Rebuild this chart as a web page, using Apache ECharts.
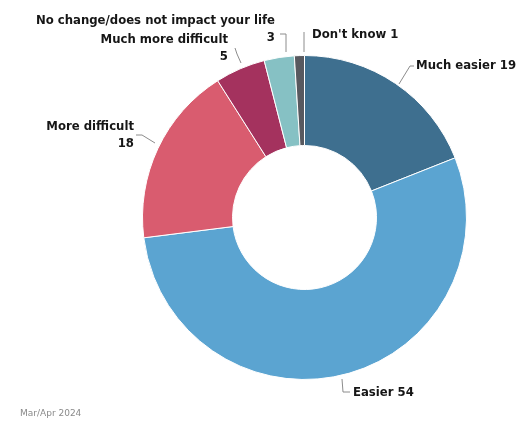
<!DOCTYPE html>
<html>
<head>
<meta charset="utf-8">
<script src="https://cdn.jsdelivr.net/npm/echarts@6/dist/echarts.min.js"></script>
<style>
	html, body { margin: 0; padding: 0; background: #ffffff; }
	#chart { width: 518px; height: 421px; }
</style>
</head>
<body>
<div id="chart"></div>
<script>
var categories = [
	"Much easier",
	"Easier",
	"More difficult",
	"Much more difficult",
	"No change/does not impact your life",
	"Don't know",
];
var values = [19, 54, 18, 5, 3, 1];
var colors = ["#3e6f8f", "#5ba4d1", "#d95c6f", "#a4325e", "#86c1c4", "#58595f"];

// label placement: anchor, alignment and leader line for each slice
var labelPlaces = [
	{ x: 416, y: 66, align: 'left', line: [[399, 84], [410, 66], [414, 66]] },
	{ x: 353, y: 393, align: 'left', line: [[342, 379], [343, 392], [350, 392]] },
	{ x: 134, y: 135, align: 'right', line: [[155, 143], [142, 135], [136, 135]] },
	{ x: 228, y: 48, align: 'right', line: [[241, 63], [237, 54], [235, 48]] },
	{ x: 275, y: 29, align: 'right', line: [[286, 52], [286, 34], [280, 34]] },
	{ x: 312, y: 35, align: 'left', line: [[304, 52], [304, 42], [304, 32]] },
];
var twoLines = [false, false, true, true, true, false];

var chartDom = document.getElementById("chart");
var myChart = echarts.init(chartDom, null, { renderer: 'canvas' });

var pieData = [];
for (var i = 0; i < categories.length; i++) {
	pieData.push({
		name: categories[i],
		value: values[i],
		itemStyle: { color: colors[i] },
	});
}

var option = {
	animation: false,
	backgroundColor: '#ffffff',
	title: {
		text: 'Mar/Apr 2024',
		left: 15,
		top: 404,
		textStyle: {
			fontFamily: 'DejaVu Sans',
			fontSize: 9,
			fontWeight: 'normal',
			color: '#8a8a8a',
		},
	},
	series: [
		{
			type: 'pie',
			center: [304.5, 217.5],
			radius: [72, 162],
			startAngle: 90,
			clockwise: true,
			avoidLabelOverlap: false,
			data: pieData,
			itemStyle: {
				borderColor: '#ffffff',
				borderWidth: 1,
			},
			label: {
				show: true,
				position: 'outside',
				fontFamily: 'DejaVu Sans',
				fontSize: 11.7,
				fontWeight: 'bold',
				color: '#161616',
				lineHeight: 17,
				formatter: function(p) {
					if (twoLines[p.dataIndex]) {
						return p.name + '\n' + p.value;
					}
					return p.name + ' ' + p.value;
				},
			},
			labelLine: {
				show: true,
				lineStyle: { color: '#8c8c8c', width: 1 },
			},
			labelLayout: function(params) {
				var place = labelPlaces[params.dataIndex];
				return {
					x: place.x,
					y: place.y,
					align: place.align,
					verticalAlign: 'middle',
					labelLinePoints: place.line,
				};
			},
		}
	]
};

option && myChart.setOption(option);
</script>
</body>
</html>
